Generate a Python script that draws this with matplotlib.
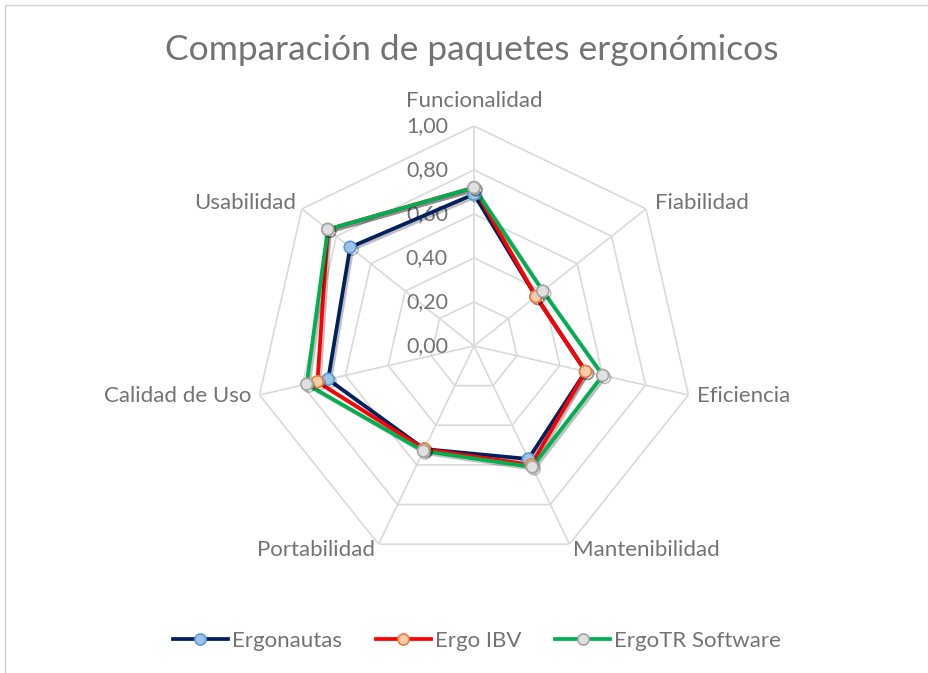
import numpy as np
import matplotlib
matplotlib.use("Agg")
import matplotlib.pyplot as plt
import matplotlib.patheffects as pe
from matplotlib.transforms import offset_copy
from matplotlib.lines import Line2D

categories = ["Funcionalidad", "Fiabilidad", "Eficiencia", "Mantenibilidad",
              "Portabilidad", "Calidad de Uso", "Usabilidad"]
ergonautas = [0.69, 0.36, 0.52, 0.57, 0.52, 0.68, 0.72]
ergo_ibv = [0.72, 0.36, 0.52, 0.60, 0.52, 0.73, 0.85]
ergotr = [0.72, 0.40, 0.60, 0.61, 0.53, 0.78, 0.85]
series_names = ["Ergonautas", "Ergo IBV", "ErgoTR Software"]
ticks = [0.0, 0.2, 0.4, 0.6, 0.8, 1.0]
tick_labels = ["0,00", "0,20", "0,40", "0,60", "0,80", "1,00"]

plt.rcParams['font.family'] = ['Lato', 'DejaVu Sans']
txt = '#737373'
grid = '#d9d9d9'

fig = plt.figure(figsize=(9.29, 6.73), dpi=100)
ax = fig.add_axes([0.2734, 0.159, 0.4736, 0.6538], projection='polar')
ax.set_theta_offset(np.pi / 2)
ax.set_theta_direction(-1)
ax.set_ylim(0, 1)
ax.grid(False)
ax.spines['polar'].set_visible(False)
ax.set_xticks([])
ax.set_yticks([])
ax.patch.set_alpha(0)

n = len(categories)
ang = np.arange(n) * 2 * np.pi / n
ang_c = np.append(ang, ang[0])

# polygon gridlines + spokes
for r in ticks[1:]:
    ax.plot(ang_c, [r] * (n + 1), color=grid, lw=1.2, zorder=1)
for a in ang:
    ax.plot([a, a], [0, 1], color=grid, lw=1.2, zorder=1)

# value labels left of the vertical axis
tr = offset_copy(ax.transData, fig=fig, x=-26, y=0, units='dots')
for r, lab in zip(ticks, tick_labels):
    ax.text(0, r, lab, transform=tr, ha='right', va='center',
            fontsize=15.5, color=txt, zorder=2)

# category labels
offs = [(0, 25, 'center'), (9, 6, 'left'), (9, -1, 'left'), (4, -6, 'left'),
        (-4, -6, 'right'), (-8, -1, 'right'), (-6, 6, 'right')]
for a, lab, (dx, dy, ha) in zip(ang, categories, offs):
    t = offset_copy(ax.transData, fig=fig, x=dx, y=dy, units='dots')
    ax.text(a, 1.0, lab, transform=t, ha=ha, va='center',
            fontsize=16, color=txt)

styles = [('#002060', '#9dc3e6', '#5b9bd5'),
          ('#ff0000', '#f8cbad', '#ed7d31'),
          ('#00b050', '#e0e0e0', '#a5a5a5')]
shadow = [pe.SimpleLineShadow(offset=(1.5, -1.5), shadow_color='k', alpha=0.25), pe.Normal()]
handles = []
for vals, name, (lc, mf, me) in zip([ergonautas, ergo_ibv, ergotr], series_names, styles):
    v = np.append(vals, vals[0])
    ax.plot(ang_c, v, color=lc, lw=2.7, zorder=3, path_effects=shadow)
    ax.plot(ang, vals, ls='none', marker='o', ms=8.5, mfc=mf, mec=me, mew=1.2,
            zorder=4, path_effects=shadow)
    handles.append(Line2D([], [], color=lc, lw=2.7, marker='o', ms=8,
                          mfc=mf, mec=me, mew=1.2))

fig.text(0.508, 1 - 50 / 673, "Comparación de paquetes ergonómicos",
         ha='center', va='center', fontsize=25.5, color=txt)

fig.legend(handles, series_names, loc='center', ncol=3, frameon=False,
           bbox_to_anchor=(477 / 929, 1 - 641 / 673), fontsize=16, labelcolor=txt,
           handlelength=2.5, handletextpad=0.18, columnspacing=1.5)

# chart frame
fig.add_artist(plt.Rectangle((5 / 929, -0.05), 1.05, 1 - 5 / 673 + 0.05,
                             transform=fig.transFigure, fill=False,
                             ec='#d0d0d0', lw=1.0))

fig.savefig('out.png', dpi=100)
